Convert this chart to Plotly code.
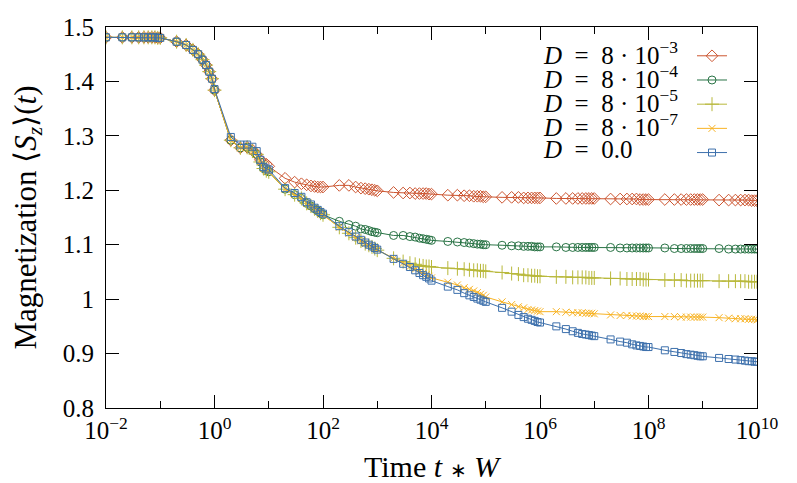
import plotly.graph_objects as go

# time grid: 1..9 x 10^k, k=-2..9, plus 1e10
time = [
    0.01, 0.02, 0.03, 0.04, 0.05, 0.06, 0.07, 0.08, 0.09,
    0.1, 0.2, 0.3, 0.4, 0.5, 0.6, 0.7, 0.8, 0.9,
    1, 2, 3, 4, 5, 6, 7, 8, 9,
    10, 20, 30, 40, 50, 60, 70, 80, 90,
    1e2, 2e2, 3e2, 4e2, 5e2, 6e2, 7e2, 8e2, 9e2,
    1e3, 2e3, 3e3, 4e3, 5e3, 6e3, 7e3, 8e3, 9e3,
    1e4, 2e4, 3e4, 4e4, 5e4, 6e4, 7e4, 8e4, 9e4,
    1e5, 2e5, 3e5, 4e5, 5e5, 6e5, 7e5, 8e5, 9e5,
    1e6, 2e6, 3e6, 4e6, 5e6, 6e6, 7e6, 8e6, 9e6,
    1e7, 2e7, 3e7, 4e7, 5e7, 6e7, 7e7, 8e7, 9e7,
    1e8, 2e8, 3e8, 4e8, 5e8, 6e8, 7e8, 8e8, 9e8,
    1e9, 2e9, 3e9, 4e9, 5e9, 6e9, 7e9, 8e9, 9e9,
    1e10,
]

# shared early-time values (t = 0.01 .. 0.9)
early = [
    1.481, 1.481, 1.481, 1.481, 1.481, 1.481, 1.481, 1.481, 1.480,
    1.480, 1.473, 1.467, 1.458, 1.450, 1.440, 1.430, 1.418, 1.405,
]

m_d3 = early + [
    1.384, 1.292, 1.278, 1.279, 1.274, 1.266, 1.256, 1.250, 1.248,
    1.244, 1.222, 1.215, 1.212, 1.210, 1.208, 1.207, 1.206, 1.206,
    1.206, 1.209, 1.209, 1.206, 1.204, 1.203, 1.202, 1.201, 1.200,
    1.199, 1.196, 1.195, 1.195, 1.194, 1.194, 1.194, 1.194, 1.193,
    1.193, 1.191, 1.191, 1.190, 1.190, 1.189, 1.189, 1.189, 1.188,
    1.188, 1.187, 1.187, 1.187, 1.186, 1.186, 1.186, 1.186, 1.186,
    1.186, 1.185, 1.185, 1.185, 1.185, 1.185, 1.185, 1.185, 1.185,
    1.185, 1.184, 1.184, 1.184, 1.184, 1.184, 1.183, 1.183, 1.183,
    1.183, 1.183, 1.183, 1.183, 1.183, 1.183, 1.183, 1.183, 1.183,
    1.183, 1.182, 1.182, 1.182, 1.182, 1.182, 1.182, 1.181, 1.181,
    1.181,
]

m_d4 = early + [
    1.384, 1.292, 1.278, 1.279, 1.272, 1.266, 1.252, 1.240, 1.236,
    1.234, 1.202, 1.192, 1.185, 1.176, 1.171, 1.166, 1.162, 1.158,
    1.155, 1.143, 1.137, 1.134, 1.129, 1.128, 1.126, 1.124, 1.123,
    1.122, 1.117, 1.117, 1.115, 1.114, 1.112, 1.111, 1.110, 1.109,
    1.108, 1.106, 1.105, 1.104, 1.103, 1.102, 1.101, 1.101, 1.100,
    1.100, 1.099, 1.098, 1.098, 1.097, 1.097, 1.097, 1.096, 1.096,
    1.096, 1.096, 1.095, 1.095, 1.095, 1.095, 1.095, 1.095, 1.095,
    1.095, 1.095, 1.094, 1.094, 1.094, 1.094, 1.094, 1.094, 1.094,
    1.094, 1.094, 1.093, 1.093, 1.093, 1.093, 1.093, 1.093, 1.093,
    1.093, 1.093, 1.092, 1.092, 1.092, 1.092, 1.092, 1.092, 1.092,
    1.092,
]

m_d5 = early + [
    1.384, 1.292, 1.278, 1.279, 1.272, 1.266, 1.252, 1.240, 1.236,
    1.234, 1.202, 1.192, 1.185, 1.176, 1.171, 1.166, 1.162, 1.158,
    1.155, 1.132, 1.121, 1.113, 1.107, 1.102, 1.099, 1.096, 1.093,
    1.090, 1.075, 1.069, 1.066, 1.064, 1.062, 1.061, 1.060, 1.060,
    1.059, 1.057, 1.056, 1.055, 1.054, 1.053, 1.053, 1.052, 1.052,
    1.051, 1.049, 1.047, 1.046, 1.044, 1.044, 1.043, 1.043, 1.042,
    1.042, 1.041, 1.041, 1.040, 1.040, 1.040, 1.040, 1.039, 1.039,
    1.039, 1.038, 1.038, 1.037, 1.037, 1.037, 1.037, 1.036, 1.036,
    1.036, 1.035, 1.035, 1.035, 1.034, 1.034, 1.034, 1.034, 1.034,
    1.034, 1.033, 1.033, 1.033, 1.033, 1.033, 1.032, 1.032, 1.032,
    1.032,
]

m_d7 = early + [
    1.384, 1.292, 1.278, 1.279, 1.272, 1.266, 1.252, 1.240, 1.236,
    1.234, 1.202, 1.192, 1.185, 1.176, 1.171, 1.166, 1.162, 1.158,
    1.155, 1.132, 1.121, 1.113, 1.107, 1.102, 1.099, 1.096, 1.093,
    1.091, 1.075, 1.066, 1.060, 1.055, 1.051, 1.048, 1.045, 1.042,
    1.039, 1.031, 1.026, 1.021, 1.018, 1.015, 1.012, 1.009, 1.007,
    1.004, 0.995, 0.990, 0.986, 0.984, 0.981, 0.980, 0.979, 0.978,
    0.977, 0.977, 0.976, 0.975, 0.975, 0.975, 0.974, 0.974, 0.974,
    0.973, 0.971, 0.970, 0.970, 0.969, 0.969, 0.969, 0.968, 0.968,
    0.968, 0.968, 0.968, 0.967, 0.967, 0.967, 0.967, 0.967, 0.967,
    0.967, 0.966, 0.965, 0.964, 0.964, 0.964, 0.963, 0.963, 0.963,
    0.962,
]

m_d0 = early + [
    1.386, 1.298, 1.284, 1.284, 1.280, 1.272, 1.256, 1.243, 1.240,
    1.238, 1.204, 1.195, 1.188, 1.178, 1.174, 1.168, 1.164, 1.160,
    1.157, 1.134, 1.123, 1.115, 1.109, 1.104, 1.100, 1.097, 1.094,
    1.091, 1.074, 1.065, 1.059, 1.053, 1.048, 1.044, 1.041, 1.038,
    1.034, 1.023, 1.017, 1.011, 1.007, 1.004, 1.001, 0.999, 0.997,
    0.995, 0.984, 0.977, 0.971, 0.967, 0.964, 0.962, 0.960, 0.958,
    0.957, 0.950, 0.945, 0.941, 0.938, 0.936, 0.935, 0.934, 0.933,
    0.932, 0.926, 0.922, 0.920, 0.917, 0.915, 0.914, 0.913, 0.912,
    0.912, 0.906, 0.903, 0.901, 0.899, 0.898, 0.897, 0.896, 0.895,
    0.895, 0.892, 0.890, 0.889, 0.888, 0.887, 0.886, 0.886, 0.885,
    0.885,
]

EQ = "\u2002=\u2002"
DOT = "\u2005·\u2005"
labels = [
    "<i>D</i>" + EQ + "8" + DOT + "10<sup>−3</sup>",
    "<i>D</i>" + EQ + "8" + DOT + "10<sup>−4</sup>",
    "<i>D</i>" + EQ + "8" + DOT + "10<sup>−5</sup>",
    "<i>D</i>" + EQ + "8" + DOT + "10<sup>−7</sup>",
    "<i>D</i>" + EQ + "0.0",
]
series = [m_d3, m_d4, m_d5, m_d7, m_d0]
colors = ["#cc5530", "#2a7446", "#b8b83a", "#f8b324", "#3d70ac"]
symbols = ["diamond-open", "circle-open", "cross-thin-open", "x-thin-open", "square-open"]
sizes = [9, 8, 10, 7, 7]

xtick_vals = [1e-2, 1, 1e2, 1e4, 1e6, 1e8, 1e10]
xtick_text = ["10<sup>−2</sup>", "10<sup>0</sup>", "10<sup>2</sup>", "10<sup>4</sup>",
              "10<sup>6</sup>", "10<sup>8</sup>", "10<sup>10</sup>"]

FONT = "Liberation Serif"
FS = 25

# page body has an 8px margin; compensate so the plot area sits at x 106..757, y 27..408
OFF = 8
W, H = 797 - OFF, 483 - OFF
ML, MR, MT, MB = 106 - OFF, 40, 27 - OFF, 75

fig = go.Figure()
for y, c, s, sz in zip(series, colors, symbols, sizes):
    fig.add_trace(go.Scatter(
        x=time, y=y, mode="lines+markers", name="",
        line=dict(color=c, width=1),
        marker=dict(symbol=s, size=sz, color=c, line=dict(color=c, width=1)),
    ))

row_y = [52.7, 76.8, 100.9, 125, 149.1]
for lab, ry in zip(labels, row_y):
    fig.add_annotation(
        text=lab, xref="paper", yref="paper",
        x=(541 - 106) / 651, y=(408 - ry) / 381,
        xanchor="left", yanchor="middle", showarrow=False,
        font=dict(family=FONT, size=FS, color="black"),
    )

fig.update_layout(
    template="none",
    width=W, height=H,
    margin=dict(l=ML, r=MR, t=MT, b=MB, autoexpand=False),
    paper_bgcolor="white", plot_bgcolor="white",
    font=dict(family=FONT, size=FS, color="black"),
    showlegend=True,
    legend=dict(
        x=(692 - 106) / 651, y=(408 - 38.7) / 381, xanchor="left", yanchor="top",
        bgcolor="rgba(0,0,0,0)", font=dict(size=16.3, family=FONT),
        itemwidth=30, tracegroupgap=0, borderwidth=0,
    ),
)
fig.update_xaxes(
    type="log", range=[-2, 10], automargin=False,
    tickvals=xtick_vals, ticktext=xtick_text,
    ticks="inside", ticklen=13, tickcolor="black", tickwidth=1,
    minor=dict(ticks="inside", ticklen=7, tickvals=[1e-1, 1e1, 1e3, 1e5, 1e7, 1e9],
               tickcolor="black", showgrid=False),
    showline=True, linecolor="black", linewidth=1, mirror="ticks",
    showgrid=False, zeroline=False,
    title=dict(text="Time <i>t</i> <span style='font-size:20px'>∗</span> <i>W</i>",
               standoff=12, font=dict(size=30, family=FONT)),
    tickfont=dict(size=FS, family=FONT),
)
fig.update_yaxes(
    range=[0.8, 1.5], dtick=0.1, tick0=0.8, automargin=False,
    ticks="inside", ticklen=13, tickcolor="black", tickwidth=1,
    showline=True, linecolor="black", linewidth=1, mirror="ticks",
    showgrid=False, zeroline=False,
    title=dict(text="Magnetization ⟨<i>S<sub>z</sub></i>⟩(<i>t</i>)", standoff=26,
               font=dict(size=31, family=FONT)),
    tickfont=dict(size=FS, family=FONT),
    ticklabelstandoff=6,
)

fig.write_html("out.html")
